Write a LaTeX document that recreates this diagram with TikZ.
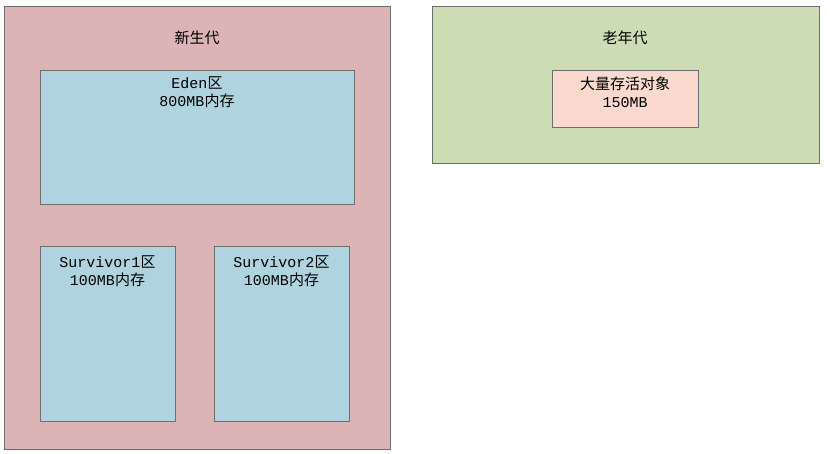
\documentclass[tikz,border=0pt]{standalone}
\usepackage{fontspec}
\setmainfont{Liberation Mono}
\newfontfamily\cjk{Noto Sans CJK SC}
\usetikzlibrary{positioning}
\definecolor{youngFill}{RGB}{221,180,182}
\definecolor{oldFill}{RGB}{204,220,180}
\definecolor{areaFill}{RGB}{176,212,223}
\definecolor{objFill}{RGB}{250,217,207}
\definecolor{edgeColor}{RGB}{110,110,110}
\tikzset{
  region/.style={draw=edgeColor,line width=0.6pt,anchor=north west,inner sep=0pt},
  area/.style={region,fill=areaFill},
  label/.style={anchor=center,inner sep=0pt,font=\fontsize{15}{18}\selectfont,align=center}
}
\begin{document}
\begin{tikzpicture}[x=1pt,y=-1pt]
\path[use as bounding box,fill=white] (0,0) rectangle (830,453);
% young generation
\node[region,fill=youngFill,minimum width=386pt,minimum height=443pt] (young) at (4,6) {};
\node[label] (youngTitle) at (197,38) {\cjk 新生代};
\node[area,minimum width=314pt,minimum height=134pt] (eden) at (40,70) {};
\node[label,anchor=north] (edenText) at (197,77) {Eden{\cjk 区}\\800MB{\cjk 内存}};
\node[area,minimum width=135pt,minimum height=175pt] (surv1) at (40,246) {};
\node[label,anchor=north] (surv1Text) at (107.5,256) {Survivor1{\cjk 区}\\100MB{\cjk 内存}};
\node[area,minimum width=135pt,minimum height=175pt] (surv2) at (214,246) {};
\node[label,anchor=north] (surv2Text) at (281.5,256) {Survivor2{\cjk 区}\\100MB{\cjk 内存}};
% old generation
\node[region,fill=oldFill,minimum width=387pt,minimum height=157pt] (old) at (432,6) {};
\node[label] (oldTitle) at (625,38) {\cjk 老年代};
\node[region,fill=objFill,minimum width=146pt,minimum height=57pt] (objects) at (552,70) {};
\node[label,anchor=north] (objText) at (625,77) {{\cjk 大量存活对象}\\150MB};
\end{tikzpicture}
\end{document}
